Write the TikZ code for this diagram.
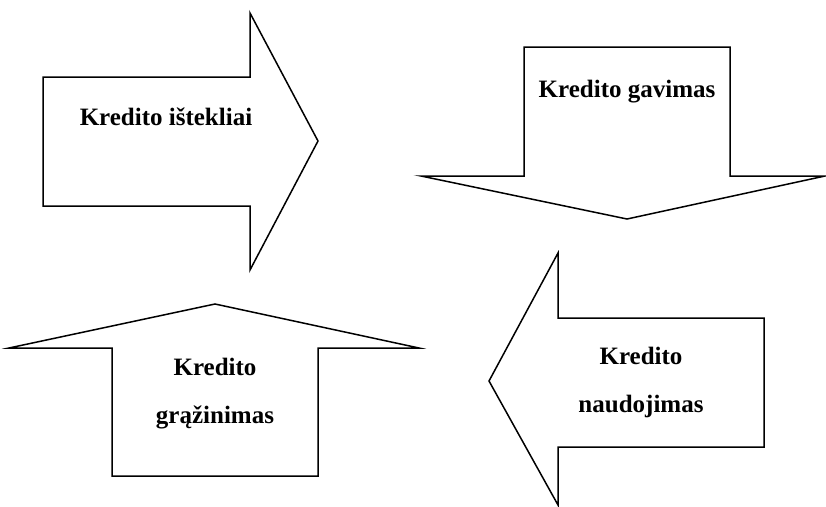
\documentclass[tikz,border=0pt]{standalone}
\usepackage{fontspec}
\setmainfont{Liberation Serif}

\begin{document}
\begin{tikzpicture}[x=1pt, y=-1pt, line width=1.5pt, line join=miter,
  blockarrow/.style={draw=black, fill=white},
  caption/.style={font=\fontsize{25}{48}\selectfont\bfseries, align=center, inner sep=0pt, anchor=base}]
  \useasboundingbox (0,0) rectangle (826,506);
  % credit cycle: four block arrows
  \draw[blockarrow] (43,77) -- (250,77) -- (250,13) -- (318,141) -- (250,270) -- (250,206) -- (43,206) -- cycle;
  \draw[blockarrow] (524,47) -- (730,47) -- (730,176) -- (825,176) -- (627,219) -- (421,176) -- (524,176) -- cycle;
  \draw[blockarrow] (764,318) -- (558,318) -- (558,253) -- (489,381) -- (558,505) -- (558,447) -- (764,447) -- cycle;
  \draw[blockarrow] (112,476) -- (112,348) -- (9,348) -- (215,304) -- (419,348) -- (318,348) -- (318,476) -- cycle;
  \node[caption] (istekliai) at (166,125) {Kredito ištekliai};
  \node[caption] (gavimas) at (627,97) {Kredito gavimas};
  % two-line captions sit on their last baseline
  \node[caption] (naudojimas) at (641,412) {Kredito\\naudojimas};
  \node[caption] (grazinimas) at (215,423) {Kredito\\grąžinimas};
\end{tikzpicture}
\end{document}
